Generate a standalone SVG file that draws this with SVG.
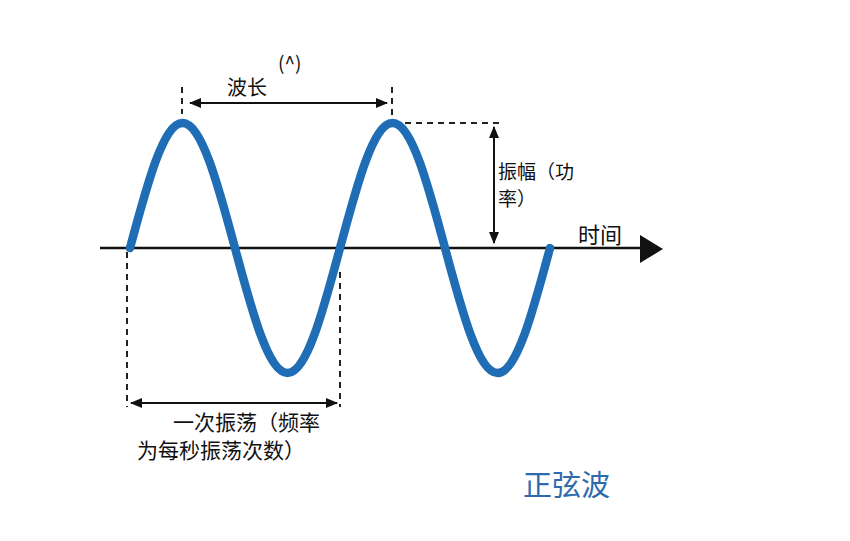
<svg xmlns="http://www.w3.org/2000/svg" width="850" height="541" viewBox="0 0 850 541">
<style>
.t{font-family:"Noto Sans CJK SC","Noto Sans",sans-serif;fill:#111;}
.dash{stroke:#222;stroke-width:2;stroke-dasharray:6 5;fill:none;}
.dim{stroke:#111;stroke-width:2;fill:none;}
</style>
<defs>
<marker id="ah" viewBox="0 0 12 10" refX="11" refY="5" markerWidth="12" markerHeight="10" markerUnits="userSpaceOnUse" orient="auto-start-reverse">
<path d="M0,0 L12,5 L0,10 Z" fill="#111"/>
</marker>
</defs>
<rect width="850" height="541" fill="#fff"/>
<g id="axis">
<line x1="100" y1="248" x2="642" y2="248" stroke="#111" stroke-width="2.5"/>
<path d="M640,235 L663,249 L640,263 Z" fill="#111"/>
</g>
<g id="wave">
<path d="M130,248 C147.14,183.9 163.5,123 182.5,123 C201.5,123 217.86,183.9 235,248 C252.14,312.1 268.5,373 287.5,373 C306.5,373 322.86,312.1 340,248 C357.14,183.9 373.5,123 392.5,123 C411.5,123 427.86,183.9 445,248 C462.14,312.1 478.5,373 497.5,373 C516.5,373 532.86,312.1 550,248" fill="none" stroke="#1f6db4" stroke-width="8.5" stroke-linecap="round"/>
</g>
<g id="connectors">
<line class="dash" x1="182" y1="87" x2="182" y2="114"/>
<line class="dash" x1="392" y1="87" x2="392" y2="116"/>
<line class="dim" x1="190" y1="103" x2="387" y2="103" marker-start="url(#ah)" marker-end="url(#ah)"/>
<line class="dash" x1="405" y1="123" x2="504" y2="123"/>
<line class="dim" x1="494" y1="127" x2="494" y2="243" marker-start="url(#ah)" marker-end="url(#ah)"/>
<line class="dash" x1="127" y1="252" x2="127" y2="407"/>
<line class="dash" x1="340" y1="272" x2="340" y2="407"/>
<line class="dim" x1="131" y1="403" x2="337" y2="403" marker-start="url(#ah)" marker-end="url(#ah)"/>
</g>
<g id="labels">
<text class="t" x="278" y="70" font-size="19">(^)</text>
<text class="t" x="227" y="95" font-size="20">波长</text>
<text class="t" x="498" y="179" font-size="19">振幅（功</text>
<text class="t" x="498" y="206" font-size="19">率）</text>
<text class="t" x="578" y="243" font-size="22">时间</text>
<text class="t" x="173" y="430" font-size="21">一次振荡（频率</text>
<text class="t" x="137" y="458" font-size="21">为每秒振荡次数）</text>
<text x="523" y="496" font-size="29" font-family="Noto Sans CJK SC, sans-serif" fill="#2e6aac">正弦波</text>
</g>
</svg>
